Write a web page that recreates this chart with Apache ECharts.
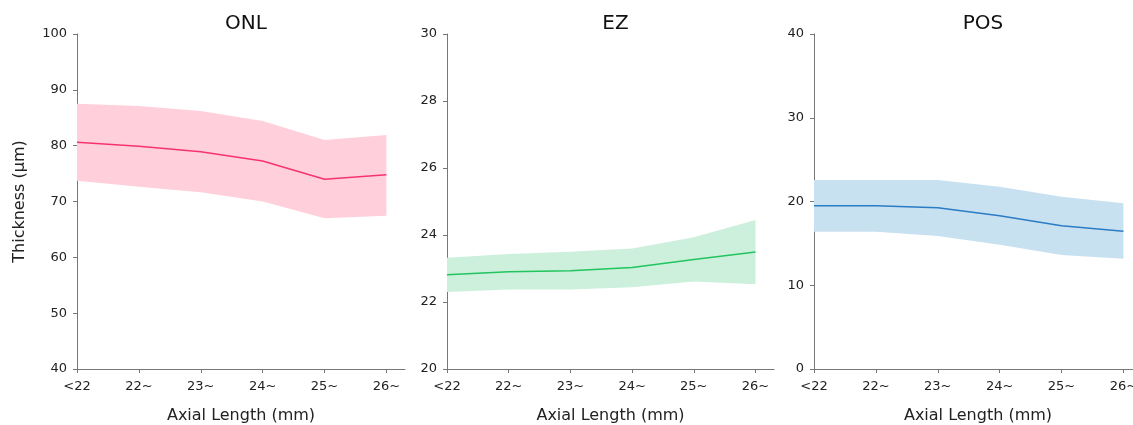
<!DOCTYPE html>
<html><head><meta charset="utf-8">
<script src="https://cdn.jsdelivr.net/npm/echarts@6/dist/echarts.min.js"></script>
<style>html,body{margin:0;padding:0;background:#fff}#c{width:1133px;height:425px}</style>
</head><body><div id="c"></div>
<script>
const categories = ['<22', '22~', '23~', '24~', '25~', '26~'];
const panelTitles = ['ONL', 'EZ', 'POS'];

const onlMean  = [80.6, 79.9, 78.9, 77.25, 74.0, 74.8];
const onlUpper = [87.5, 87.1, 86.2, 84.4, 81.0, 81.9];
const onlLower = [73.7, 72.65, 71.65, 70.0, 67.0, 67.45];

const ezMean  = [22.81, 22.90, 22.93, 23.03, 23.27, 23.49];
const ezUpper = [23.32, 23.43, 23.50, 23.60, 23.93, 24.45];
const ezLower = [22.30, 22.37, 22.37, 22.44, 22.61, 22.53];

const posMean  = [19.5, 19.5, 19.26, 18.3, 17.1, 16.44];
const posUpper = [22.57, 22.57, 22.57, 21.77, 20.57, 19.78];
const posLower = [16.4, 16.4, 15.88, 14.85, 13.6, 13.17];

const yMins = [40, 20, 0];
const yMaxs = [100, 30, 40];
const yIntervals = [10, 2, 10];

const lineColors = ['#f7336f', '#22c45f', '#2a7cc4'];
const bandColors = ['#ffd0dc', '#ccf0dc', '#c8e1f1'];

const means = [onlMean, ezMean, posMean];
const uppers = [onlUpper, ezUpper, posUpper];
const lowers = [onlLower, ezLower, posLower];

const FONT = 'DejaVu Sans';
const lefts = [77, 447, 814];
const widths = [328, 327, 328];

const grids = [], xAxes = [], yAxes = [], series = [], titles = [];
const tickIdx = categories.map((_, i) => i);

for (let p = 0; p < 3; p++) {
  grids.push({left: lefts[p], width: widths[p], top: 34, height: 335, containLabel: false, outerBoundsMode: 'none'});
  titles.push({text: panelTitles[p], left: lefts[p] + widths[p] / 2, top: 9, textAlign: 'center',
    textStyle: {fontFamily: FONT, fontSize: 20, fontWeight: 'normal', color: '#111'}});
  xAxes.push({
    type: 'value', gridIndex: p, min: 0, max: 5.3,
    name: 'Axial Length (mm)', nameLocation: 'middle', nameGap: 39,
    nameTextStyle: {fontFamily: FONT, fontSize: 16, color: '#222'},
    axisLine: {show: true, lineStyle: {color: '#777', width: 1}},
    axisTick: {show: true, length: 4, lineStyle: {color: '#777'}, customValues: tickIdx},
    axisLabel: {customValues: tickIdx, formatter: v => categories[Math.round(v)] || '', margin: 11,
      fontFamily: FONT, fontSize: 13, color: '#222'},
    splitLine: {show: false}
  });
  yAxes.push({
    type: 'value', gridIndex: p, min: yMins[p], max: yMaxs[p], interval: yIntervals[p],
    name: p === 0 ? 'Thickness (μm)' : '', nameLocation: 'middle', nameGap: 49, nameRotate: 90,
    nameTextStyle: {fontFamily: FONT, fontSize: 16, color: '#222'},
    axisLine: {show: true, lineStyle: {color: '#777', width: 1}},
    axisTick: {show: true, length: 4, lineStyle: {color: '#777'}},
    axisLabel: {margin: 10, fontFamily: FONT, fontSize: 13, color: '#222'},
    splitLine: {show: false}
  });
  const lo = lowers[p], hi = uppers[p];
  series.push({
    type: 'custom', xAxisIndex: p, yAxisIndex: p, silent: true, z: 1,
    data: lo.map((v, i) => [i, v, hi[i]]),
    encode: {x: 0, y: [1, 2]},
    renderItem: function (params, api) {
      if (params.dataIndex !== 0) return null;
      const pts = [];
      for (let i = 0; i < hi.length; i++) pts.push(api.coord([i, hi[i]]));
      for (let i = lo.length - 1; i >= 0; i--) pts.push(api.coord([i, lo[i]]));
      return {type: 'polygon', shape: {points: pts}, style: {fill: bandColors[p], stroke: null}};
    }
  });
  series.push({
    type: 'line', xAxisIndex: p, yAxisIndex: p, data: means[p].map((v, i) => [i, v]),
    symbol: 'none', lineStyle: {width: 1.5, color: lineColors[p]}, z: 3
  });
}

const chart = echarts.init(document.getElementById('c'), null, {renderer: 'canvas'});
chart.setOption({
  animation: false,
  title: titles,
  grid: grids,
  xAxis: xAxes,
  yAxis: yAxes,
  series: series
});
</script>
</body></html>
